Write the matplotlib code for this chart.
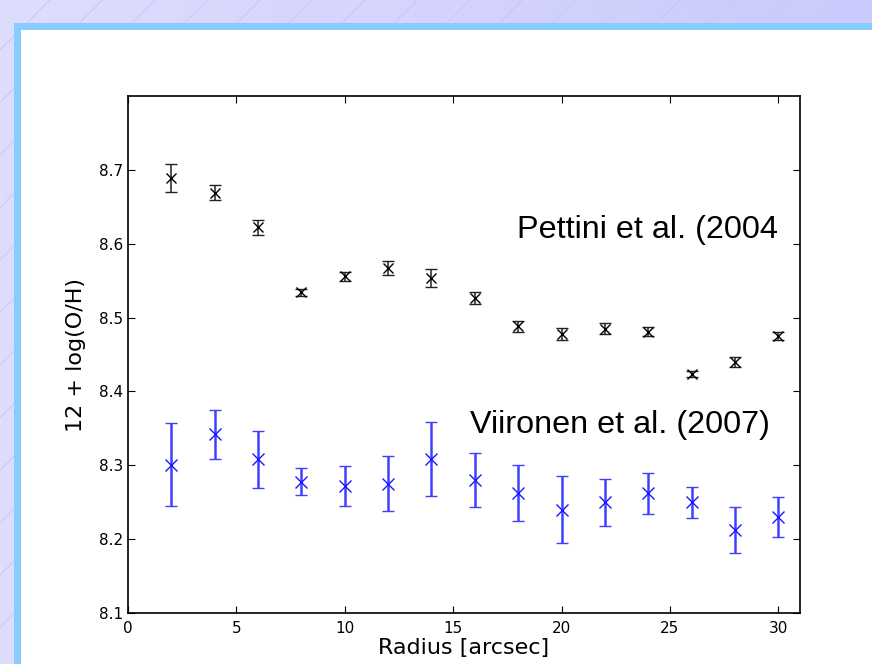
import numpy as np
import matplotlib
matplotlib.use("Agg")
import matplotlib.pyplot as plt
from matplotlib.patches import Rectangle

radius = [2, 4, 6, 8, 10, 12, 14, 16, 18, 20, 22, 24, 26, 28, 30]
pettini = [8.689, 8.669, 8.622, 8.534, 8.556, 8.567, 8.554, 8.526, 8.488,
           8.478, 8.485, 8.481, 8.424, 8.440, 8.475]
pettini_err = [0.019, 0.010, 0.010, 0.005, 0.006, 0.009, 0.012, 0.008, 0.008,
               0.008, 0.007, 0.006, 0.004, 0.007, 0.006]
viironen = [8.301, 8.342, 8.308, 8.278, 8.272, 8.275, 8.308, 8.280, 8.262,
            8.240, 8.250, 8.262, 8.250, 8.212, 8.230]
viironen_err = [0.056, 0.033, 0.039, 0.018, 0.027, 0.037, 0.050, 0.036, 0.038,
                0.045, 0.032, 0.028, 0.021, 0.031, 0.027]
xticks = [0, 5, 10, 15, 20, 25, 30]
yticks = [8.1, 8.2, 8.3, 8.4, 8.5, 8.6, 8.7]

W, H = 872, 664
fig = plt.figure(figsize=(W / 100, H / 100), dpi=100)

# slide background
bg = fig.add_axes([0, 0, 1, 1], zorder=-10)
bg.set_xlim(0, W)
bg.set_ylim(H, 0)
bg.axis("off")
gx = np.linspace(0, 1, 256)
grad = np.zeros((2, 256, 3))
c0 = np.array([0xdd, 0xdd, 0xfe]) / 255
c1 = np.array([0xca, 0xca, 0xfc]) / 255
for i, t in enumerate(gx):
    grad[:, i, :] = c0 * (1 - t) + c1 * t
bg.imshow(grad, extent=[0, W, H, 0], aspect="auto", zorder=0)
for k in range(-2, 30):
    s = 50 + 52.5 * k
    bg.plot([s, s - H], [0, H], color="#c8c8f3", lw=0.7, zorder=1)
bg.add_patch(Rectangle((14, 23), W, H, facecolor="#87cbff", edgecolor="none", zorder=2))
bg.add_patch(Rectangle((21, 30), W, H, facecolor="white", edgecolor="none", zorder=3))

ax = fig.add_axes([128 / W, 1 - 613 / H, (800 - 128) / W, (613 - 96) / H])
ax.errorbar(radius, pettini, yerr=pettini_err, fmt="x", color="black",
            ecolor="#222222", capsize=4, elinewidth=1.1, capthick=1.0, mew=1.0, ms=7)
ax.errorbar(radius, viironen, yerr=viironen_err, fmt="x", color="#1a1aff",
            ecolor="#4040ff", capsize=4, elinewidth=1.8, capthick=1.2, mew=1.0, ms=8)
ax.set_xlim(0, 31)
ax.set_ylim(8.1, 8.8)
ax.set_xticks(xticks)
ax.set_yticks(yticks)
ax.tick_params(labelsize=11, direction="in", length=5, top=True, right=True)
ax.tick_params(axis="x", pad=6)
ax.set_xlabel("Radius [arcsec]", fontsize=16, labelpad=1)
ax.set_ylabel("12 + log(O/H)", fontsize=16, labelpad=9)
for s in ax.spines.values():
    s.set_linewidth(1.2)

ax.text(30.0, 8.618, "Pettini et al. (2004", fontsize=23.3, family="Liberation Sans",
        ha="right", va="center")
ax.text(29.6, 8.354, "Viironen et al. (2007)", fontsize=23.3, family="Liberation Sans",
        ha="right", va="center")

fig.savefig("out.png", dpi=100)
